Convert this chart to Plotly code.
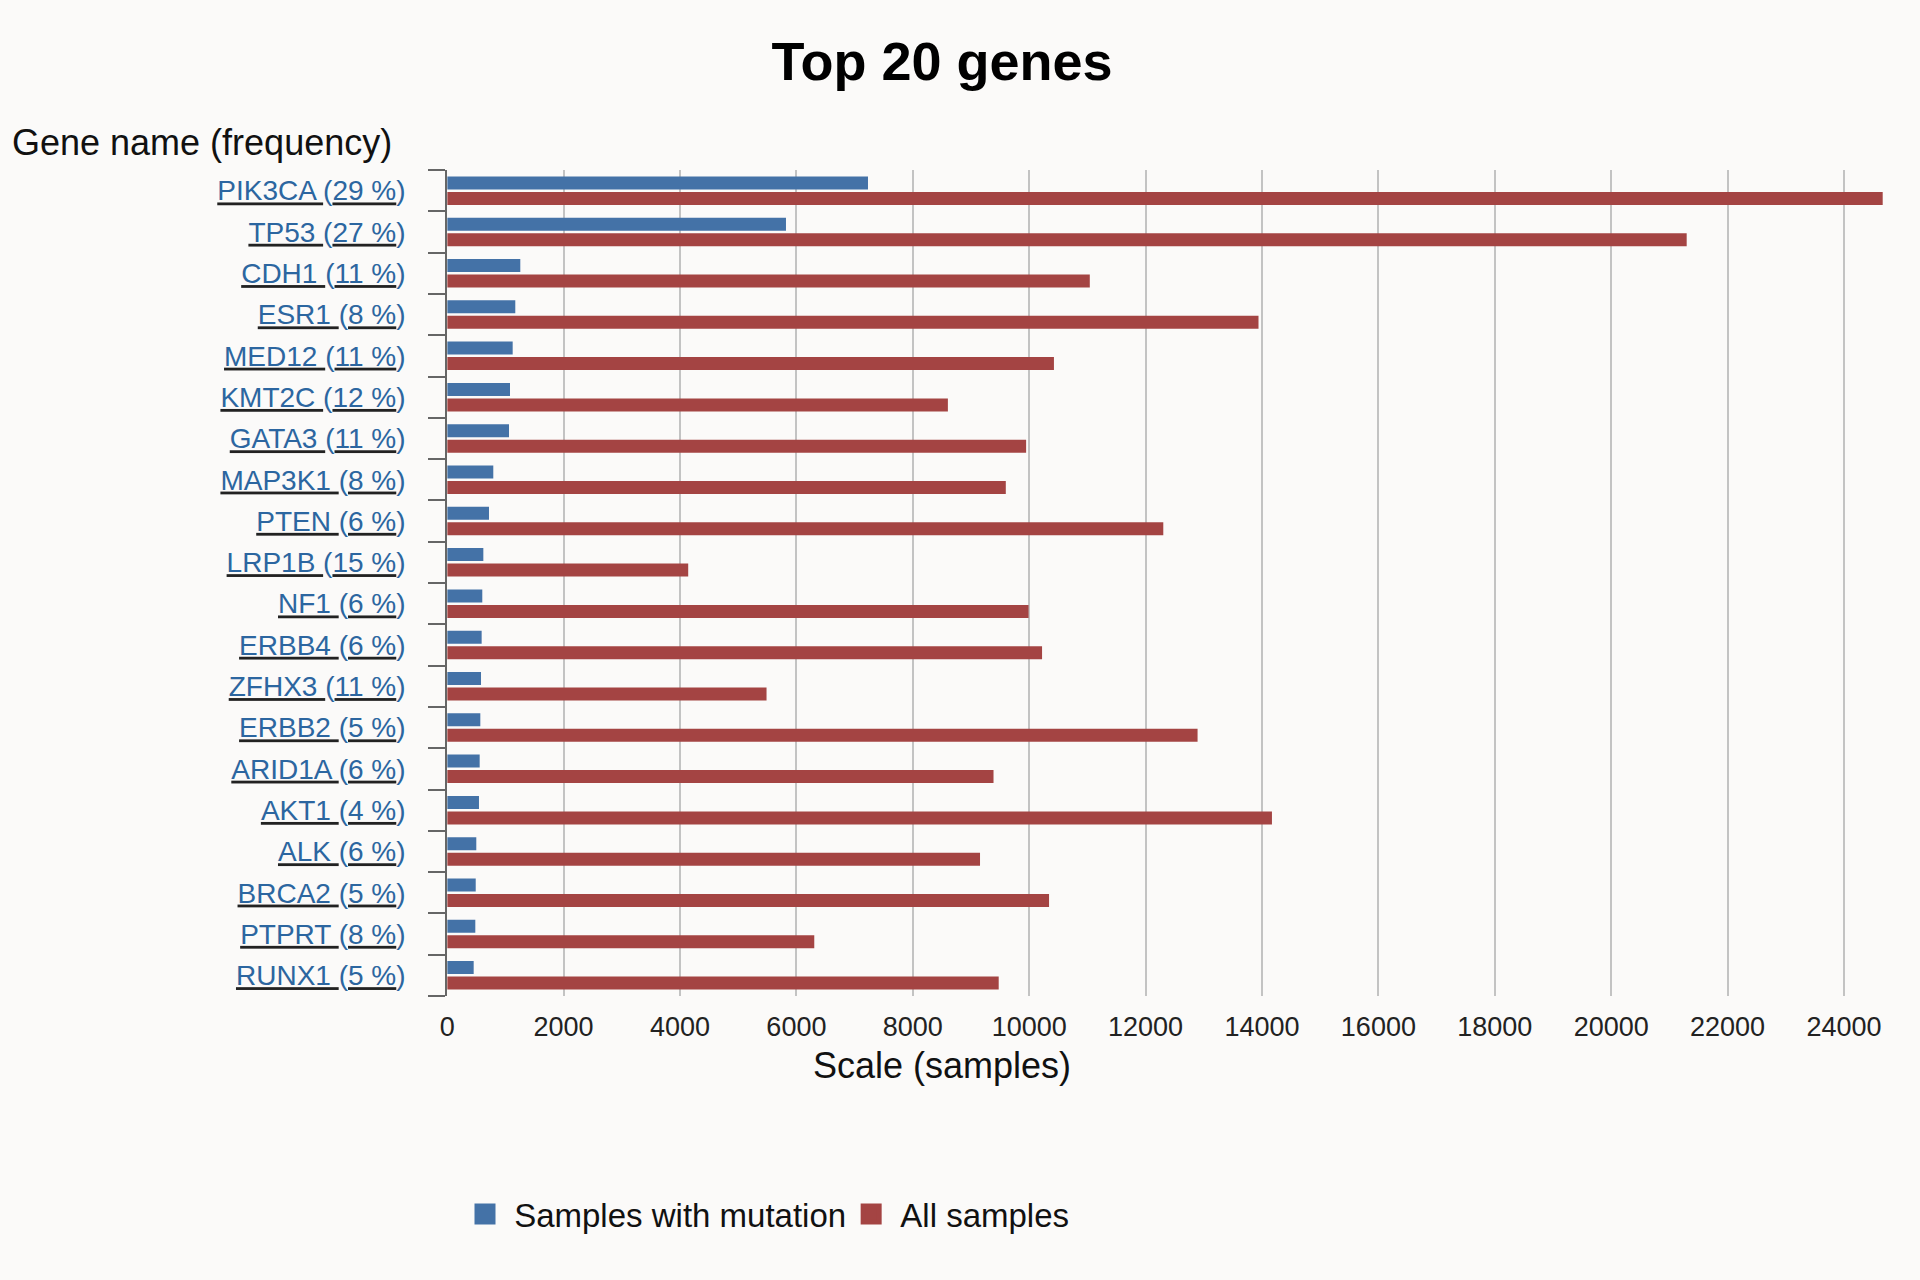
import plotly.graph_objects as go

genes = ["PIK3CA", "TP53", "CDH1", "ESR1", "MED12", "KMT2C", "GATA3", "MAP3K1", "PTEN", "LRP1B",
         "NF1", "ERBB4", "ZFHX3", "ERBB2", "ARID1A", "AKT1", "ALK", "BRCA2", "PTPRT", "RUNX1"]
freq_pct = [29, 27, 11, 8, 11, 12, 11, 8, 6, 15, 6, 6, 11, 5, 6, 4, 6, 5, 8, 5]
samples_with_mutation = [7230, 5821, 1256, 1170, 1125, 1079, 1062, 792, 718, 621,
                         603, 592, 581, 569, 558, 546, 500, 490, 483, 455]
all_samples = [24665, 21297, 11041, 13940, 10425, 8603, 9947, 9598, 12304, 4141,
               9989, 10221, 5487, 12893, 9387, 14171, 9155, 10341, 6307, 9476]
x_ticks = list(range(0, 24001, 2000))
x_ticklabels = [str(v) for v in x_ticks]

BLUE = "#4472a7"
RED = "#a44443"
LINK = "#2c66a0"
BG = "#fbfaf9"
FONT = "Liberation Sans"
W, H = 1920, 1280

ticktext = [f'<span style="color:#222"><u><span style="color:{LINK}">{g} </span></u></span>'
            f'(<span style="color:#222"><u><span style="color:{LINK}">{f} %</span></u></span>)'
            for g, f in zip(genes, freq_pct)]

fig = go.Figure()
fig.add_trace(go.Bar(y=genes, x=samples_with_mutation, orientation="h", name="Samples with mutation",
                     marker=dict(color=BLUE, line=dict(width=0)), showlegend=False))
fig.add_trace(go.Bar(y=genes, x=all_samples, orientation="h", name="All samples",
                     marker=dict(color=RED, line=dict(width=0)), showlegend=False))
# legend proxies
for nm, col in [("\u00a0Samples with mutation", BLUE), ("\u00a0All samples", RED)]:
    fig.add_trace(go.Scatter(x=[None], y=[None], mode="markers", name=nm,
                             marker=dict(symbol="square", size=16, color=col,
                                         line=dict(color=col, width=6))))

x0 = 447.2
px_per_unit = 116.4 / 2000
right_px = 1890
xmax = (right_px - x0) / px_per_unit
ytop, ybot = 170, 996

fig.update_layout(
    width=W, height=H,
    paper_bgcolor=BG, plot_bgcolor=BG,
    margin=dict(l=0, r=0, t=0, b=0, autoexpand=False),
    font=dict(family=FONT, color="#111"),
    barmode="group", bargap=0.25, bargroupgap=0.16,
    title=dict(text="<b>Top 20 genes</b>", x=942 / W, y=1 - 61 / H, xanchor="center", yanchor="middle",
               font=dict(size=54, color="#000")),
    xaxis=dict(domain=[x0 / W, right_px / W], range=[0, xmax], tickmode="array",
               tickvals=x_ticks, ticktext=x_ticklabels, automargin=False,
               showgrid=True, gridcolor="#c3c3c3", gridwidth=2, zeroline=False, showline=False,
               ticks="", tickfont=dict(size=27, color="#222"), ticklabelstandoff=12),
    yaxis=dict(domain=[1 - ybot / H, 1 - ytop / H], autorange="reversed", automargin=False,
               tickmode="array", tickvals=genes, ticktext=ticktext,
               showline=True, linecolor="#666", linewidth=2,
               ticks="outside", tickson="boundaries", ticklen=17, tickcolor="#666", tickwidth=2,
               tickfont=dict(size=28, color=LINK), ticklabelstandoff=34, showgrid=False),
    legend=dict(orientation="h", x=465 / W, y=1 - 1214 / H, xanchor="left", yanchor="middle",
                font=dict(size=33, color="#111"), bgcolor="rgba(0,0,0,0)", itemsizing="trace"),
    annotations=[
        dict(text="Gene name (frequency)", x=10 / W, y=1 - 143 / H, xref="paper", yref="paper",
             xanchor="left", yanchor="middle", showarrow=False, font=dict(size=36, color="#111")),
        dict(text="Scale (samples)", x=942 / W, y=1 - 1065 / H, xref="paper", yref="paper",
             xanchor="center", yanchor="middle", showarrow=False, font=dict(size=36, color="#111")),
    ],
)

fig.write_html("out.html")
